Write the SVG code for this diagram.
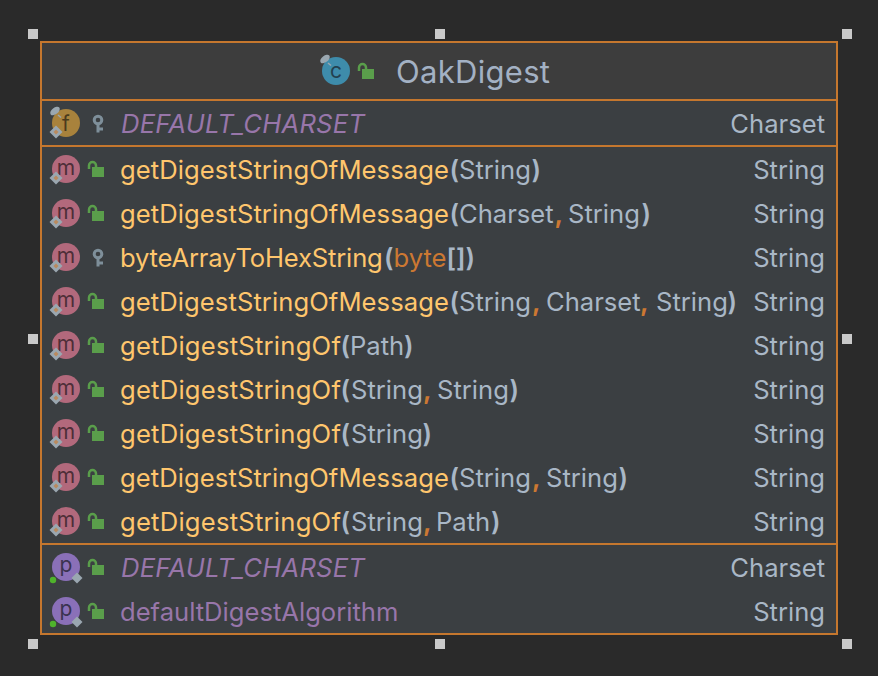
<svg xmlns="http://www.w3.org/2000/svg" width="878" height="676" viewBox="0 0 878 676">
<style>
text{font-family:Inter,"Noto Sans","Liberation Sans",sans-serif;font-size:25.600px}
.n{fill:#ffc66d}.a{letter-spacing:.08px}.o{letter-spacing:.24px}.y{letter-spacing:-.17px}.t{fill:#a9b7c6;letter-spacing:0}.b{font-weight:600}.c{fill:#cc7832;font-weight:700}.k{fill:#cc7832;letter-spacing:0}
.f{fill:#9876aa}.i{font-style:italic;letter-spacing:.22px}.r{fill:#a9b7c6;text-anchor:end}
.h{fill:#c9c9c9}.l{stroke:#c5772e;stroke-width:2;fill:none}
.g{font-size:21px;text-anchor:middle}
</style>
<defs>
<g id="lock"><path d="M-7 -1V-4.500a3.500 3.500 0 0 1 7 0V-3" fill="none" stroke="#5a9e4b" stroke-width="2.500"/><rect x="-4" y="-3" width="12" height="10" fill="#5a9e4b"/></g>
<g id="key"><circle cx="0" cy="-4" r="3.800" fill="none" stroke="#7e8f9a" stroke-width="3"/><path d="M0 -1V8.500M0 5H5" fill="none" stroke="#7e8f9a" stroke-width="3"/></g>
<g id="dia"><path d="M0 -6.500L6.500 0L0 6.500L-6.500 0Z" fill="#9aa7b0"/><path d="M0 -2.500L2.500 0L0 2.500L-2.500 0Z" fill="#b98a5e"/></g>
<g id="tag"><ellipse rx="5.500" ry="3.200" transform="rotate(-38)" fill="#9aa7b0"/><path d="M3 4L6 6.500" stroke="#9aa7b0" stroke-width="1.500"/></g>
<g id="m"><circle r="14" fill="#b2697c"/><text class="g" y="6" style="fill:#4e2e38">m</text><use href="#dia" x="-10" y="9"/></g>
<g id="p"><circle r="14" fill="#8a70b8"/><text class="g" y="5" style="fill:#3a3350">p</text><path d="M0 -5.500L5.500 0L0 5.500L-5.500 0Z" fill="#9aa7b0" transform="translate(11 11)"/><circle cx="-13" cy="13" r="3.200" fill="#4fb32c"/></g>
</defs>
<rect width="878" height="676" fill="#2a2a2a"/>
<g id="handles">
<rect class="h" x="28" y="29" width="10" height="10"/><rect class="h" x="435" y="29" width="10" height="10"/><rect class="h" x="842" y="29" width="10" height="10"/>
<rect class="h" x="28" y="334" width="10" height="10"/><rect class="h" x="842" y="334" width="10" height="10"/>
<rect class="h" x="28" y="639" width="10" height="10"/><rect class="h" x="435" y="639" width="10" height="10"/><rect class="h" x="842" y="639" width="10" height="10"/>
</g>
<g id="OakDigest">
<rect x="41" y="42" width="796" height="592" fill="#3b3f42"/>
<rect x="41" y="42" width="796" height="58" fill="#3d3d3d"/>
<g id="header">
<circle cx="336" cy="71" r="14" fill="#3e8cab"/>
<use href="#tag" x="325" y="59"/>
<text class="g" x="336" y="78" style="fill:#23414f">c</text>
<use href="#lock" x="366" y="72"/>
<text x="396" y="83" style="font-size:31px;letter-spacing:.3px;fill:#a3b1c4">OakDigest</text>
</g>
<g id="field-default-charset">
<circle cx="66" cy="123" r="14" fill="#a8823c"/><use href="#tag" x="55" y="111"/><text class="g" x="66" y="131" style="fill:#4a3a1c">f</text><use href="#dia" x="56" y="132"/>
<use href="#key" x="98" y="124"/>
<text class="f i" x="121" y="133">DEFAULT_CHARSET</text><text class="r" x="825" y="133">Charset</text>
</g>
<g id="m1"><use href="#m" x="66" y="169"/><use href="#lock" x="96" y="170"/><text x="120" y="179"><tspan class="n a">getDigestStringOfMessage</tspan><tspan class="t b" x="449.500">(</tspan><tspan class="t" x="459">String</tspan><tspan class="t b" x="531.500">)</tspan></text><text class="r" x="825" y="179">String</text></g>
<g id="m2"><use href="#m" x="66" y="213"/><use href="#lock" x="96" y="214"/><text x="120" y="223"><tspan class="n a">getDigestStringOfMessage</tspan><tspan class="t b" x="449.500">(</tspan><tspan class="t" x="459">Charset</tspan><tspan class="c" x="554.500">,</tspan><tspan class="t" x="568">String</tspan><tspan class="t b" x="641.500">)</tspan></text><text class="r" x="825" y="223">String</text></g>
<g id="m3"><use href="#m" x="66" y="257"/><use href="#key" x="98" y="258"/><text x="120" y="267"><tspan class="n y">byteArrayToHexString</tspan><tspan class="t b" x="384">(</tspan><tspan class="k" x="393.500">byte</tspan><tspan class="t b" x="446.500">[])</tspan></text><text class="r" x="825" y="267">String</text></g>
<g id="m4"><use href="#m" x="66" y="301"/><use href="#lock" x="96" y="302"/><text x="120" y="311"><tspan class="n a">getDigestStringOfMessage</tspan><tspan class="t b" x="449.500">(</tspan><tspan class="t" x="459">String</tspan><tspan class="c" x="532">,</tspan><tspan class="t" x="546">Charset</tspan><tspan class="c" x="640">,</tspan><tspan class="t" x="656">String</tspan><tspan class="t b" x="727.500">)</tspan></text><text class="r" x="825" y="311">String</text></g>
<g id="m5"><use href="#m" x="66" y="345"/><use href="#lock" x="96" y="346"/><text x="120" y="355"><tspan class="n o">getDigestStringOf</tspan><tspan class="t b" x="340.500">(</tspan><tspan class="t" x="350">Path</tspan><tspan class="t b" x="404">)</tspan></text><text class="r" x="825" y="355">String</text></g>
<g id="m6"><use href="#m" x="66" y="389"/><use href="#lock" x="96" y="390"/><text x="120" y="399"><tspan class="n o">getDigestStringOf</tspan><tspan class="t b" x="340.500">(</tspan><tspan class="t" x="351">String</tspan><tspan class="c" x="423">,</tspan><tspan class="t" x="437">String</tspan><tspan class="t b" x="509.500">)</tspan></text><text class="r" x="825" y="399">String</text></g>
<g id="m7"><use href="#m" x="66" y="433"/><use href="#lock" x="96" y="434"/><text x="120" y="443"><tspan class="n o">getDigestStringOf</tspan><tspan class="t b" x="340.500">(</tspan><tspan class="t" x="351">String</tspan><tspan class="t b" x="422.500">)</tspan></text><text class="r" x="825" y="443">String</text></g>
<g id="m8"><use href="#m" x="66" y="477"/><use href="#lock" x="96" y="478"/><text x="120" y="487"><tspan class="n a">getDigestStringOfMessage</tspan><tspan class="t b" x="449.500">(</tspan><tspan class="t" x="459">String</tspan><tspan class="c" x="532">,</tspan><tspan class="t" x="546">String</tspan><tspan class="t b" x="618.500">)</tspan></text><text class="r" x="825" y="487">String</text></g>
<g id="m9"><use href="#m" x="66" y="521"/><use href="#lock" x="96" y="522"/><text x="120" y="531"><tspan class="n o">getDigestStringOf</tspan><tspan class="t b" x="340.500">(</tspan><tspan class="t" x="351">String</tspan><tspan class="c" x="423">,</tspan><tspan class="t" x="436">Path</tspan><tspan class="t b" x="491">)</tspan></text><text class="r" x="825" y="531">String</text></g>
<g id="p1"><use href="#p" x="66" y="567"/><use href="#lock" x="96" y="568"/><text class="f i" x="121" y="577">DEFAULT_CHARSET</text><text class="r" x="825" y="577">Charset</text></g>
<g id="p2"><use href="#p" x="66" y="611"/><use href="#lock" x="96" y="612"/><text class="f" x="120" y="621">defaultDigestAlgorithm</text><text class="r" x="825" y="621">String</text></g>
<rect class="l" x="41" y="42" width="796" height="592"/>
<path class="l" d="M41 100H837M41 146H837M41 544H837"/>
</g>
</svg>
